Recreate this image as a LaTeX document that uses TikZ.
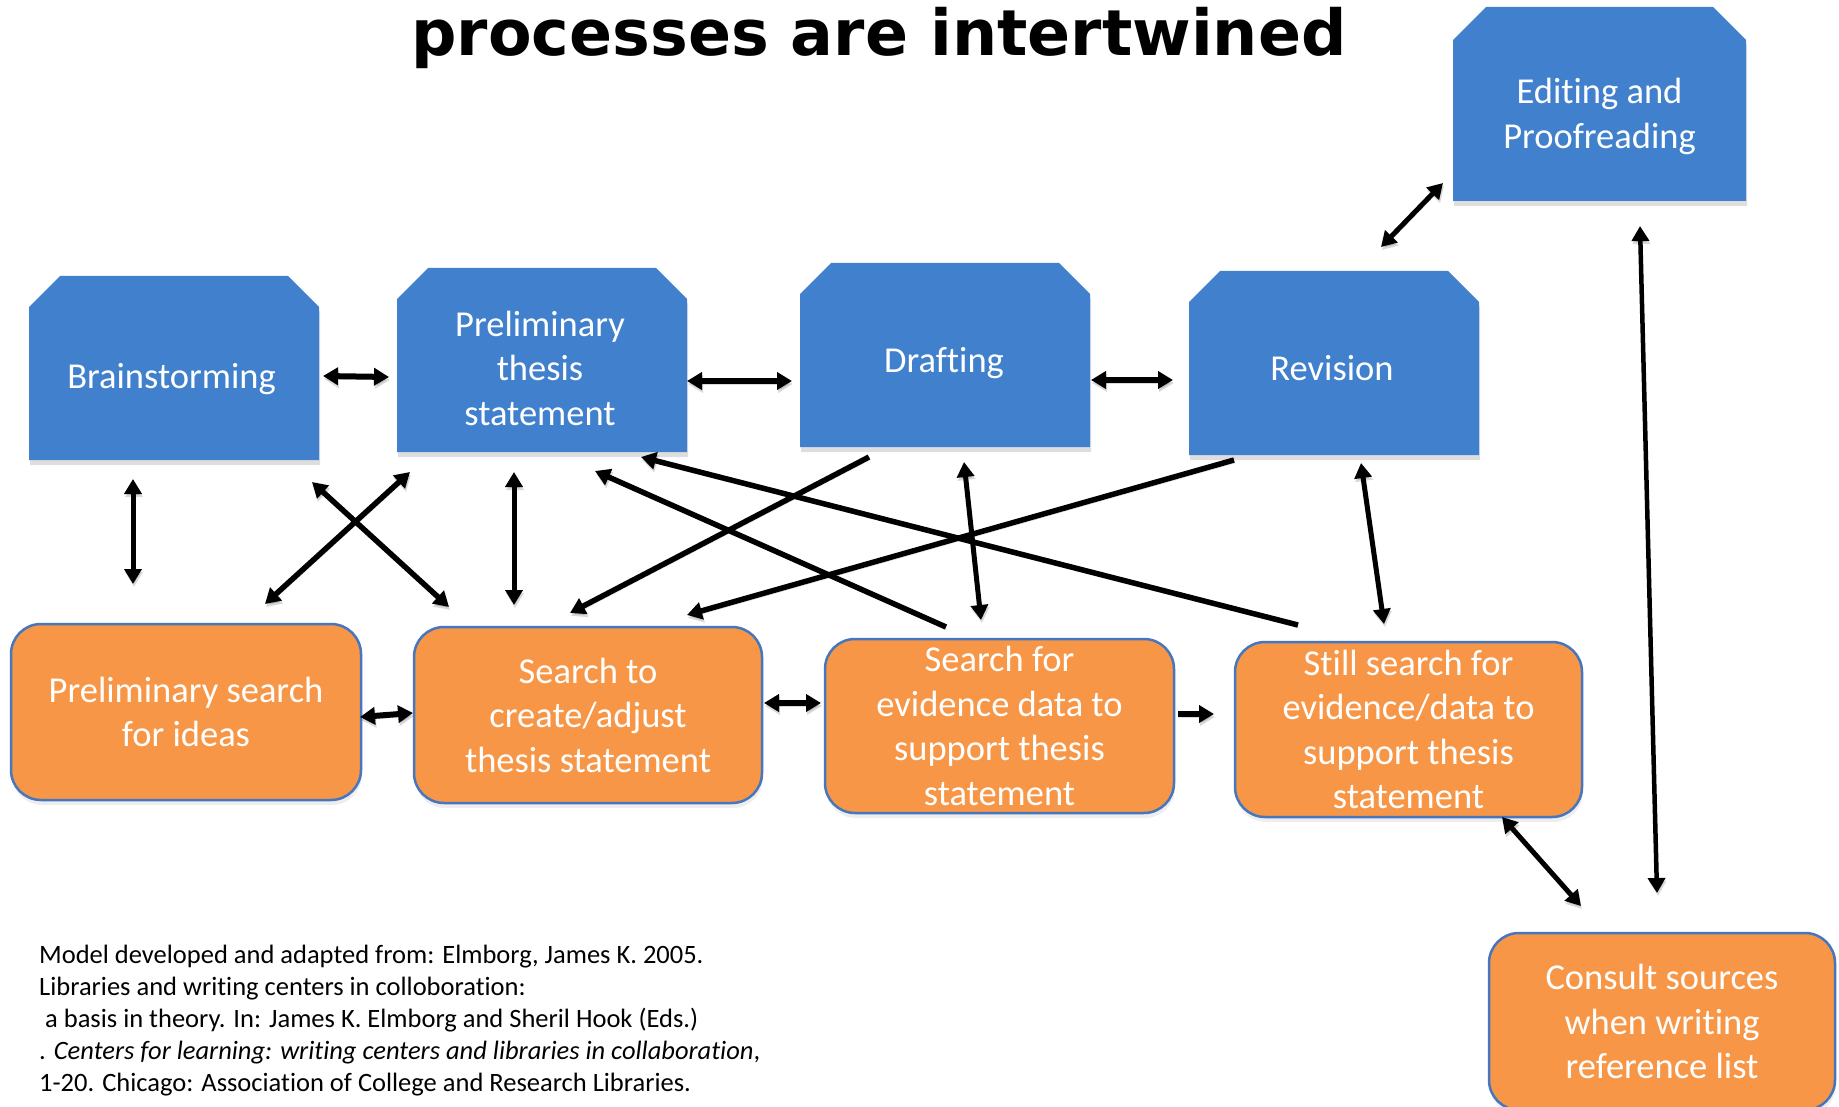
\documentclass[tikz,border=0pt]{standalone}
\usepackage{fontspec}
\setmainfont{Carlito}[Ligatures=NoCommon]
\newfontfamily\titlefont{DejaVu Sans}
\usetikzlibrary{arrows.meta,calc,fit,shadows}
\definecolor{boxblue}{RGB}{64,128,205}
\definecolor{boxorange}{RGB}{247,150,70}
\definecolor{edgeblue}{RGB}{70,118,190}
\tikzset{
  boxfont/.style={font=\fontsize{36.5}{44.5}\selectfont, text=white, align=center},
  orangebox/.style={boxfont, rectangle, rounded corners=30pt, fill=boxorange, draw=edgeblue,
    line width=2.5pt, inner sep=0pt,
    drop shadow={shadow xshift=1pt, shadow yshift=-5pt, opacity=0.13}},
  bluearea/.style={rectangle, inner sep=0pt, draw=none},
  bluetext/.style={boxfont},
  footfont/.style={font=\fontsize{26.5}{32}\selectfont, anchor=base west, inner sep=0pt},
  arrowhd/.tip={Triangle[length=15pt,width=17pt]},
  conn/.style={line width=5.5pt, draw=black,
    preaction={draw=black, opacity=0.15, transform canvas={xshift=1pt,yshift=-3pt}}},
  dbl/.style={conn, arrowhd-arrowhd},
  sgl/.style={conn, -arrowhd},
}
\newcommand\snipbox[6]{%
  \fill[black, opacity=0.13] ({#2+1},{#3+#6+5}) -- ({#2+#6+1},{#3+5}) -- ({#4-#6+1},{#3+5}) -- ({#4+1},{#3+#6+5}) -- ({#4+1},{#5+5}) -- ({#2+1},{#5+5}) -- cycle;
  \fill[boxblue] (#2,{#3+#6}) -- ({#2+#6},#3) -- ({#4-#6},#3) -- (#4,{#3+#6}) -- (#4,#5) -- (#2,#5) -- cycle;
  \node[bluearea, fit={(#2,#3) (#4,#5)}] (#1) {};
}
\begin{document}
\begin{tikzpicture}[x=1pt,y=-1pt]
\fill[white] (0,0) rectangle (1839,1107);
\useasboundingbox (0,0) rectangle (1839,1107);

% title
\node[font=\titlefont\bfseries\fontsize{63.5}{70}\selectfont, anchor=base, inner sep=0pt] (title) at (879,56) {processes are intertwined};

% blue process boxes
\snipbox{edit}{1453}{7}{1746}{201}{33}
\snipbox{brain}{29}{276}{319}{460}{31}
\snipbox{prelim}{397}{268}{687}{452}{31}
\snipbox{draft}{800}{263}{1090}{447}{31}
\snipbox{rev}{1189}{271}{1479}{455}{31}

\node[bluetext] at ($(edit)+(0,12.5)$) {Editing and\\Proofreading};
\node[bluetext] at ($(brain)+(-2.5,11)$) {Brainstorming};
\node[bluetext] at ($(prelim)+(-2,8)$) {Preliminary\\thesis\\statement};
\node[bluetext] at ($(draft)+(-1,8)$) {Drafting};
\node[bluetext] at ($(rev)+(-2,5.5)$) {Revision};

% orange search boxes
\node[orangebox, minimum width=350pt, minimum height=176pt] (psearch) at (186,712) {Preliminary search\\for ideas};
\node[orangebox, minimum width=348pt, minimum height=176pt] (screate) at (588,715) {Search to\\create/adjust\\thesis statement};
\node[orangebox, minimum width=349pt, minimum height=174pt] (sevid) at (999.5,726) {Search for\\evidence data to\\support thesis\\statement};
\node[orangebox, minimum width=347pt, minimum height=175pt] (still) at (1408.5,729.5) {Still search for\\evidence/data to\\support thesis\\statement};
\node[orangebox, minimum width=346pt, minimum height=177pt] (consult) at (1662,1021.5) {Consult sources\\when writing\\reference list};

% connectors
\draw[dbl, line width=6pt] ($(brain)+(149,8)$) -- ($(prelim)+(-153,17)$);
\draw[dbl, line width=6pt] ($(prelim)+(145,21)$) -- ($(draft)+(-153,26)$);
\draw[dbl, line width=6pt] ($(draft)+(146,25)$) -- ($(rev)+(-161,17)$);
\draw[dbl, line width=5pt] ($(rev)+(47,-116)$) -- ($(edit)+(-156.5,79)$);
\draw[dbl, line width=4.5pt] ($(edit)+(40.5,122)$) -- ($(consult)+(-5,-128.5)$);
\draw[dbl, line width=5pt] ($(still)+(93.5,87.5)$) -- ($(consult)+(-81,-115.5)$);
\draw[dbl, line width=5pt] ($(brain)+(-41,111)$) -- ($(psearch)+(-53,-128)$);
\draw[dbl] ($(brain)+(138,114)$) -- ($(screate)+(-139,-108)$);
\draw[dbl] ($(prelim)+(-132,112)$) -- ($(psearch)+(79,-108)$);
\draw[dbl, line width=5pt] ($(prelim)+(-28,112)$) -- ($(screate)+(-74,-110)$);
\draw[sgl] ($(sevid)+(-53.5,-99)$) -- ($(prelim)+(53,111)$);
\draw[sgl] ($(still)+(-110.5,-104.5)$) -- ($(prelim)+(99,97)$);
\draw[sgl] ($(draft)+(-76,102)$) -- ($(screate)+(-18,-102)$);
\draw[sgl] ($(rev)+(-100,97)$) -- ($(screate)+(99,-100)$);
\draw[dbl, line width=5pt] ($(draft)+(19,107)$) -- ($(sevid)+(-18.5,-106)$);
\draw[dbl, line width=5pt] ($(rev)+(27,100)$) -- ($(still)+(-24.5,-105.5)$);
\draw[dbl, line width=6pt] ($(psearch)+(174,5)$) -- ($(screate)+(-175,-2)$);
\draw[dbl, line width=6pt] ($(screate)+(176,-12)$) -- ($(sevid)+(-178.5,-23)$);
\draw[sgl, line width=6pt] ($(sevid)+(178.5,-12)$) -- ($(still)+(-194.5,-15.5)$);

% footer reference
\node[footfont] (f1) at (39,963) {Model developed and adapted from: Elmborg, James K. 2005.};
\node[footfont] (f2) at (39,995) {Libraries and writing centers in colloboration:};
\node[footfont] (f3) at (45,1027) {a basis in theory. In: James K. Elmborg and Sheril Hook (Eds.)};
\node[footfont] (f4) at (39,1059) {. \textit{Centers for learning: writing centers and libraries in collaboration},};
\node[footfont] (f5) at (39,1091) {1-20. Chicago: Association of College and Research Libraries.};
\end{tikzpicture}
\end{document}
